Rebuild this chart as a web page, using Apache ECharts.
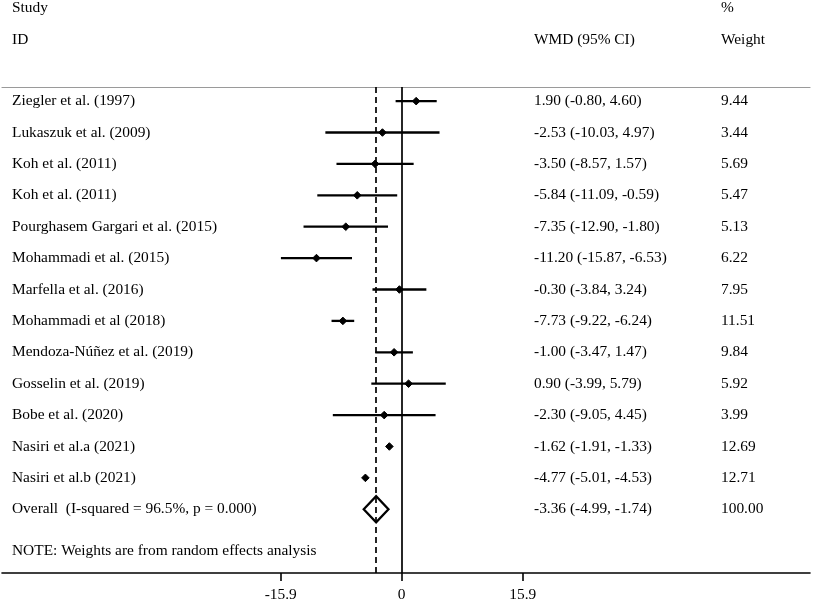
<!DOCTYPE html>
<html lang="en">
<head>
    <meta charset="UTF-8">
    <title>Forest plot - WMD</title>
    <script src="https://cdn.jsdelivr.net/npm/echarts@6.0.0/dist/echarts.min.js"></script>
    <style>
        html, body { margin: 0; padding: 0; background: #fff; }
        #main { width: 813px; height: 606px; }
    </style>
</head>
<body>
<div id="main"></div>
<script>
    // study rows
    const studies = [
        'Ziegler et al. (1997)',
        'Lukaszuk et al. (2009)',
        'Koh et al. (2011)',
        'Koh et al. (2011)',
        'Pourghasem Gargari et al. (2015)',
        'Mohammadi et al. (2015)',
        'Marfella et al. (2016)',
        'Mohammadi et al (2018)',
        'Mendoza-Núñez et al. (2019)',
        'Gosselin et al. (2019)',
        'Bobe et al. (2020)',
        'Nasiri et al.a (2021)',
        'Nasiri et al.b (2021)'
    ];
    const wmd = [1.90, -2.53, -3.50, -5.84, -7.35, -11.20, -0.30, -7.73, -1.00, 0.90, -2.30, -1.62, -4.77];
    const ciLow = [-0.80, -10.03, -8.57, -11.09, -12.90, -15.87, -3.84, -9.22, -3.47, -3.99, -9.05, -1.91, -5.01];
    const ciHigh = [4.60, 4.97, 1.57, -0.59, -1.80, -6.53, 3.24, -6.24, 1.47, 5.79, 4.45, -1.33, -4.53];
    const weights = [9.44, 3.44, 5.69, 5.47, 5.13, 6.22, 7.95, 11.51, 9.84, 5.92, 3.99, 12.69, 12.71];

    // pooled estimate
    const overallLabel = 'Overall  (I-squared = 96.5%, p = 0.000)';
    const overallWmd = -3.36;
    const overallLow = -4.99;
    const overallHigh = -1.74;
    const overallWeight = 100.00;

    const noteText = 'NOTE: Weights are from random effects analysis';
    const tickValues = [-15.9, 0, 15.9];

    const FONT = '15.4px "Liberation Serif", "Times New Roman", serif';
    const TXT = '#000';

    const fmtCI = (m, l, h) => `${m.toFixed(2)} (${l.toFixed(2)}, ${h.toFixed(2)})`;

    const chart = echarts.init(document.getElementById('main'));

    // one row per study + overall + note
    const textRows = studies.map((s, i) => ({
        value: [0, i],
        name: s,
        est: fmtCI(wmd[i], ciLow[i], ciHigh[i]),
        w: weights[i].toFixed(2)
    }));
    textRows.push({
        value: [0, studies.length],
        name: overallLabel,
        est: fmtCI(overallWmd, overallLow, overallHigh),
        w: overallWeight.toFixed(2)
    });
    textRows.push({ value: [0, studies.length + 1.34], name: noteText, est: '', w: '' });

    const forestData = studies.map((s, i) => [wmd[i], i, ciLow[i], ciHigh[i]]);

    const xMin = -52.52, xMax = 53.65;

    const option = {
        animation: false,
        grid: { left: 2, right: 3, top: 87, bottom: 33 },
        xAxis: [
            {
                type: 'value',
                min: xMin,
                max: xMax,
                position: 'bottom',
                splitLine: { show: false },
                axisLine: { show: true, onZero: false, lineStyle: { color: '#000', width: 1.6 } },
                axisTick: {
                    show: true,
                    length: 8,
                    customValues: tickValues,
                    lineStyle: { color: '#000', width: 1.6 }
                },
                axisLabel: {
                    customValues: tickValues,
                    margin: 14,
                    color: TXT,
                    fontFamily: '"Liberation Serif", "Times New Roman", serif',
                    fontSize: 15.4,
                    formatter: v => (v === 0 ? '0' : String(v))
                }
            },
            {
                type: 'value',
                min: xMin,
                max: xMax,
                position: 'top',
                splitLine: { show: false },
                axisLine: { show: true, onZero: false, lineStyle: { color: '#9a9a9a', width: 1.2 } },
                axisTick: { show: false },
                axisLabel: { show: false }
            }
        ],
        yAxis: {
            type: 'value',
            inverse: true,
            min: -0.45,
            max: 15.03,
            show: false
        },
        graphic: [
            { type: 'text', style: { x: 12, y: 8, text: 'Study', font: FONT, fill: TXT, verticalAlign: 'middle' } },
            { type: 'text', style: { x: 12, y: 40, text: 'ID', font: FONT, fill: TXT, verticalAlign: 'middle' } },
            { type: 'text', style: { x: 534, y: 40, text: 'WMD (95% CI)', font: FONT, fill: TXT, verticalAlign: 'middle' } },
            { type: 'text', style: { x: 721, y: 8, text: '%', font: FONT, fill: TXT, verticalAlign: 'middle' } },
            { type: 'text', style: { x: 721, y: 40, text: 'Weight', font: FONT, fill: TXT, verticalAlign: 'middle' } }
        ],
        series: [
            {
                // study CIs and point estimates
                type: 'custom',
                clip: false,
                encode: { x: [0, 2, 3], y: 1 },
                data: forestData,
                renderItem: function (params, api) {
                    const y = api.value(1);
                    const p = api.coord([api.value(0), y]);
                    const lo = api.coord([api.value(2), y]);
                    const hi = api.coord([api.value(3), y]);
                    const r = 3.8;
                    return {
                        type: 'group',
                        children: [
                            {
                                type: 'line',
                                shape: { x1: lo[0], y1: lo[1], x2: hi[0], y2: hi[1] },
                                style: { stroke: '#000', lineWidth: 2.3 }
                            },
                            {
                                type: 'polygon',
                                shape: { points: [[p[0] - r, p[1]], [p[0], p[1] - r], [p[0] + r, p[1]], [p[0], p[1] + r]] },
                                style: { fill: '#000', stroke: '#000', lineWidth: 1 }
                            }
                        ]
                    };
                },
                markLine: {
                    silent: true,
                    symbol: 'none',
                    label: { show: false },
                    data: [
                        { xAxis: 0, lineStyle: { color: '#000', width: 1.7, type: 'solid' } },
                        { xAxis: overallWmd, lineStyle: { color: '#000', width: 1.7, type: [6, 4] } }
                    ]
                }
            },
            {
                // pooled diamond
                type: 'custom',
                clip: false,
                encode: { x: [0, 2, 3], y: 1 },
                data: [[overallWmd, studies.length, overallLow, overallHigh]],
                renderItem: function (params, api) {
                    const y = api.value(1);
                    const c = api.coord([api.value(0), y]);
                    const lo = api.coord([api.value(2), y]);
                    const hi = api.coord([api.value(3), y]);
                    const hh = 13;
                    return {
                        type: 'polygon',
                        shape: { points: [[lo[0], c[1]], [c[0], c[1] - hh], [hi[0], c[1]], [c[0], c[1] + hh]] },
                        style: { fill: 'none', stroke: '#000', lineWidth: 2.3 }
                    };
                }
            },
            {
                // text columns
                type: 'custom',
                clip: false,
                encode: { x: 0, y: 1 },
                data: textRows,
                renderItem: function (params, api) {
                    const row = textRows[params.dataIndex];
                    const y = api.coord([0, api.value(1)])[1];
                    return {
                        type: 'group',
                        children: [
                            { type: 'text', style: { x: 12, y: y, text: row.name, font: FONT, fill: TXT, verticalAlign: 'middle' } },
                            { type: 'text', style: { x: 534, y: y, text: row.est, font: FONT, fill: TXT, verticalAlign: 'middle' } },
                            { type: 'text', style: { x: 721, y: y, text: row.w, font: FONT, fill: TXT, verticalAlign: 'middle' } }
                        ]
                    };
                }
            }
        ]
    };

    chart.setOption(option);
</script>
</body>
</html>
